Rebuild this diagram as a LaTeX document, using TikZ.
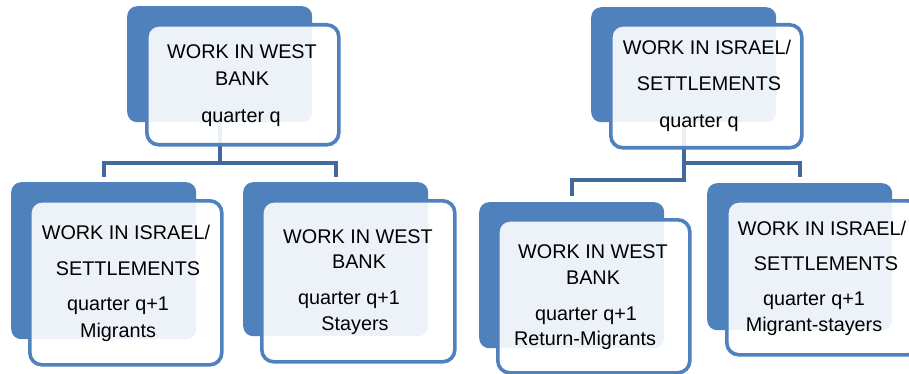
\documentclass[tikz,border=0pt]{standalone}
\usepackage{fontspec}
\setmainfont{Liberation Sans}
\definecolor{backblue}{HTML}{4F81BD}
\definecolor{linkblue}{HTML}{41699C}
\tikzset{
  backbox/.style={fill=backblue, rounded corners=10pt, inner sep=0pt, anchor=north west},
  frontbox/.style={draw=backblue, line width=3.6pt, fill=white, fill opacity=0.9, draw opacity=1, rounded corners=12pt, inner sep=0pt, anchor=north west},
  lbl/.style={anchor=base, font=\fontsize{19.8}{22}\selectfont, inner sep=0pt, text=black},
  link/.style={draw=linkblue, line width=3.8pt},
}
\begin{document}
\begin{tikzpicture}[x=1pt,y=-1pt]
\useasboundingbox (0,0) rectangle (909,374);
\clip (0,0) rectangle (909,374);
% back boxes (as nodes)
\node[backbox, minimum width=185pt, minimum height=116pt] (T1b) at (127,6) {};
\node[backbox, minimum width=185pt, minimum height=157pt] (L1b) at (11,182) {};
\node[backbox, minimum width=185pt, minimum height=154pt] (R1b) at (243,182) {};
\node[backbox, minimum width=185pt, minimum height=115pt] (T2b) at (591,7) {};
\node[backbox, minimum width=185pt, minimum height=146pt] (L2b) at (479,202) {};
\node[backbox, minimum width=185pt, minimum height=147pt] (R2b) at (707,183) {};
% connectors
\draw[link] (T1b.south) -- (T1b.south |- 0,163) -| ([yshift=5pt]L1b.north);
\draw[link] (T1b.south |- 0,163) -| ([yshift=5pt]R1b.north);
\draw[link] (T2b.south) -- (T2b.south |- 0,180) -| ([yshift=6pt]L2b.north);
\draw[link] (T2b.south |- 0,163) -| ([yshift=6pt]R2b.north);
% front boxes
\node[frontbox, minimum width=192pt, minimum height=120pt] (T1f) at (145,23) {};
\node[frontbox, minimum width=192pt, minimum height=164pt] (L1f) at (28,199) {};
\node[frontbox, minimum width=193pt, minimum height=161pt] (R1f) at (260,199) {};
\node[frontbox, minimum width=191pt, minimum height=123pt] (T2f) at (609,23) {};
\node[frontbox, minimum width=192pt, minimum height=153pt] (L2f) at (496,218) {};
\node[frontbox, minimum width=193pt, minimum height=154pt] (R2f) at (725,199) {};
% texts
\node[lbl] (t1a) at (242,59) {WORK IN WEST};
\node[lbl] (t1b) at (242,86) {BANK};
\node[lbl] (t1c) at (241,123) {quarter q};
\node[lbl] (l1a) at (126,239) {WORK IN ISRAEL/};
\node[lbl] (l1b) at (128,275) {SETTLEMENTS};
\node[lbl] (l1c) at (118,310) {quarter q+1};
\node[lbl] (l1d) at (118,337) {Migrants};
\node[lbl] (r1a) at (358,243) {WORK IN WEST};
\node[lbl] (r1b) at (359,268) {BANK};
\node[lbl] (r1c) at (349,304) {quarter q+1};
\node[lbl] (r1d) at (355,330) {Stayers};
\node[lbl] (t2a) at (707,55) {WORK IN ISRAEL/};
\node[lbl] (t2b) at (709,91) {SETTLEMENTS};
\node[lbl] (t2c) at (699,128) {quarter q};
\node[lbl] (l2a) at (593,258) {WORK IN WEST};
\node[lbl] (l2b) at (593,284) {BANK};
\node[lbl] (l2c) at (586,320) {quarter q+1};
\node[lbl] (l2d) at (585,345) {Return-Migrants};
\node[lbl] (r2a) at (822,235) {WORK IN ISRAEL/};
\node[lbl] (r2b) at (826,270) {SETTLEMENTS};
\node[lbl] (r2c) at (814,305) {quarter q+1};
\node[lbl] (r2d) at (814,331) {Migrant-stayers};
\end{tikzpicture}
\end{document}
